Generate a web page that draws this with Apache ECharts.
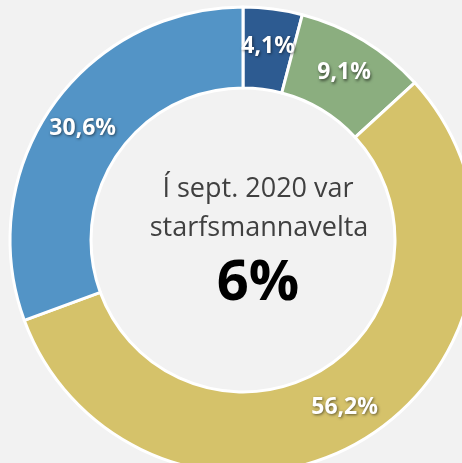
<!DOCTYPE html>
<html><head><meta charset="utf-8">
<script src="https://cdn.jsdelivr.net/npm/echarts@6/dist/echarts.min.js"></script>
<style>html,body{margin:0;padding:0;background:#f2f2f2}#c{width:462px;height:463px}</style>
</head><body><div id="c"></div>
<script>
const categories = ['A', 'B', 'C', 'D'];
const values = [4.1, 9.1, 56.2, 30.6];
const colors = ['#2D5B91', '#8BAE7F', '#D5C26A', '#5394C6'];
const centerLines = ['Í sept. 2020 var', 'starfsmannavelta'];
const centerValue = '6%';

const chart = echarts.init(document.getElementById('c'));
chart.setOption({
  backgroundColor: '#f2f2f2',
  animation: false,
  series: [{
    type: 'pie',
    center: [243, 240],
    radius: [152, 233],
    startAngle: 90,
    clockwise: true,
    silent: true,
    itemStyle: { borderColor: '#ffffff', borderWidth: 3 },
    label: {
      show: true,
      position: 'inside',
      formatter: p => String(p.value).replace('.', ',') + '%',
      color: '#ffffff',
      fontFamily: 'Open Sans',
      fontWeight: 'bold',
      fontSize: 23,
      textShadowColor: 'rgba(0,0,0,0.55)',
      textShadowBlur: 3,
      textShadowOffsetX: 1,
      textShadowOffsetY: 1.5
    },
    labelLine: { show: false },
    data: categories.map((c, i) => ({ name: c, value: values[i], itemStyle: { color: colors[i] } }))
  }],
  graphic: [
    { type: 'text', x: 258, y: 189, style: { text: centerLines[0], fill: '#404040', font: '27px "Open Sans"', textAlign: 'center', textVerticalAlign: 'middle' } },
    { type: 'text', x: 259, y: 228, style: { text: centerLines[1], fill: '#404040', font: '27px "Open Sans"', textAlign: 'center', textVerticalAlign: 'middle' } },
    { type: 'text', x: 258, y: 284, style: { text: centerValue, fill: '#000000', font: 'bold 56px "Open Sans"', textAlign: 'center', textVerticalAlign: 'middle' } }
  ]
});
</script></body></html>
